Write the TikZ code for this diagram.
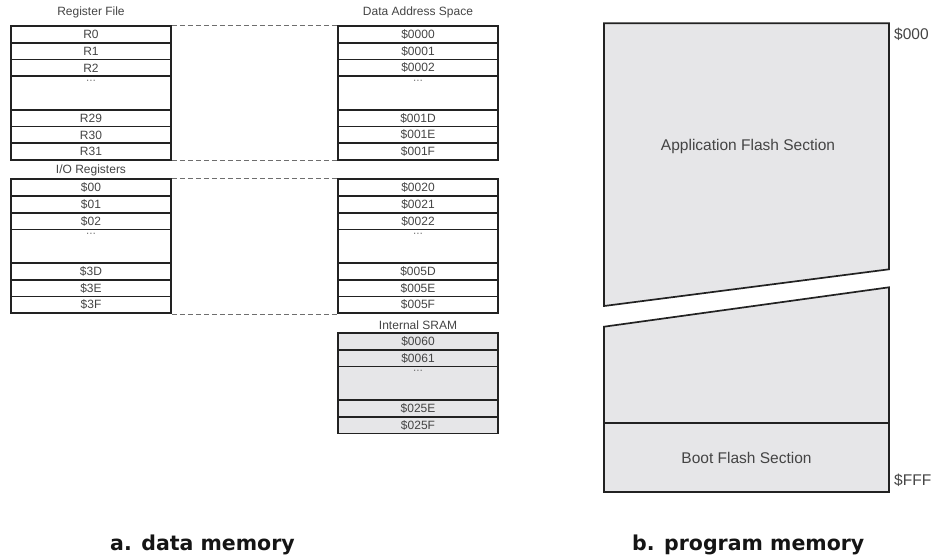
\documentclass[tikz,border=0pt]{standalone}
\usepackage{fontspec}
\setmainfont{Liberation Sans}
\newfontfamily\capfont{DejaVu Sans}
\definecolor{linec}{HTML}{222222}
\definecolor{txtc}{HTML}{444444}
\definecolor{fillc}{HTML}{E6E6E8}
\definecolor{dashc}{HTML}{6E6E6E}
\definecolor{capc}{HTML}{151515}
\tikzset{
  cell/.style={draw=linec, line width=1.7pt, minimum width=160pt, minimum height=16.75pt,
    inner sep=0pt, font=\fontsize{12}{12}\selectfont, text=txtc},
  dotcell/.style={cell, minimum height=33.5pt},
  sram/.style={fill=fillc},
  dotl/.style={anchor=north, inner sep=0pt, yshift=-4.5pt, font=\fontsize{10}{10}\selectfont, text=txtc},
  hdr/.style={font=\fontsize{12}{12}\selectfont, text=txtc, inner sep=0pt},
  guide/.style={draw=dashc, line width=1.2pt, dash pattern=on 5pt off 3pt},
  prog/.style={draw=linec, line width=1.7pt, fill=fillc},
  seclabel/.style={font=\fontsize{15.5}{16}\selectfont, text=txtc, inner sep=0pt},
  addr/.style={font=\fontsize{15.5}{16}\selectfont, text=txtc, inner sep=0pt, anchor=west},
  caption/.style={font=\capfont\bfseries\fontsize{20.5}{21}\selectfont, text=capc, inner sep=0pt, anchor=base west}
}
\begin{document}
\begin{tikzpicture}[x=1pt, y=-1pt]
\useasboundingbox (0,0) rectangle (933,558);

% ---------- Register File ----------
\node[hdr] (hrf) at (91,12) {Register File};
\foreach \n/\o/\t in {0/0/R0,1/1/R1,2/2/R2,4/5/R29,5/6/R30,6/7/R31}
  \node[cell] (rf\n) at (91,{26+(\o+0.5)*16.75}) {\t};
\node[dotcell, label={[dotl]north:···}] (rf3) at (91,{26+4*16.75}) {};

% ---------- Data Address Space (top) ----------
\node[hdr] (hda) at (418,12) {Data Address Space};
\foreach \n/\o/\t in {0/0/\$0000,1/1/\$0001,2/2/\$0002,4/5/\$001D,5/6/\$001E,6/7/\$001F}
  \node[cell] (da\n) at (418,{26+(\o+0.5)*16.75}) {\t};
\node[dotcell, label={[dotl]north:···}] (da3) at (418,{26+4*16.75}) {};

% ---------- I/O Registers ----------
\node[hdr] (hio) at (91,170) {I/O Registers};
\foreach \n/\o/\t in {0/0/\$00,1/1/\$01,2/2/\$02,4/5/\$3D,5/6/\$3E,6/7/\$3F}
  \node[cell] (io\n) at (91,{179.3+(\o+0.5)*16.75}) {\t};
\node[dotcell, label={[dotl]north:···}] (io3) at (91,{179.3+4*16.75}) {};

% ---------- Data Address Space (I/O part) ----------
\foreach \n/\o/\t in {0/0/\$0020,1/1/\$0021,2/2/\$0022,4/5/\$005D,5/6/\$005E,6/7/\$005F}
  \node[cell] (db\n) at (418,{179.3+(\o+0.5)*16.75}) {\t};
\node[dotcell, label={[dotl]north:···}] (db3) at (418,{179.3+4*16.75}) {};

% ---------- Internal SRAM ----------
\node[hdr] (hsr) at (418,325) {Internal SRAM};
\foreach \n/\o/\t in {0/0/\$0060,1/1/\$0061,3/4/\$025E,4/5/\$025F}
  \node[cell, sram] (sr\n) at (418,{333+(\o+0.5)*16.75}) {\t};
\node[dotcell, sram, label={[dotl]north:···}] (sr2) at (418,{333+3*16.75}) {};

% ---------- dashed guides ----------
\draw[guide] (rf0.north east) -- (da0.north west);
\draw[guide] (rf6.south east) -- (da6.south west);
\draw[guide] (io0.north east) -- (db0.north west);
\draw[guide] (io6.south east) -- (db6.south west);

% ---------- Program memory ----------
\coordinate (a1) at (604,23.3);
\coordinate (a2) at (889,23.3);
\coordinate (a3) at (889,269.3);
\coordinate (a4) at (604,306);
\draw[prog] (a1) -- (a2) -- (a3) -- (a4) -- cycle;
\node[seclabel] (app) at (748,146) {Application Flash Section};

\coordinate (b1) at (604,326.7);
\coordinate (b2) at (889,287.3);
\coordinate (b3) at (889,423.3);
\coordinate (b4) at (604,423.3);
\draw[prog] (b1) -- (b2) -- (b3) -- (b4) -- cycle;
\node[prog, minimum width=285pt, minimum height=69pt, inner sep=0pt,
      font=\fontsize{15.5}{16}\selectfont, text=txtc] (boot) at (746.5,457.8) {Boot Flash Section};

\node[addr] (s000) at (894,34) {\$000};
\node[addr] (sfff) at (894,480) {\$FFF};

% ---------- captions ----------
\node[caption] (capa) at (110,550.5) {a. data memory};
\node[caption] (capb) at (632,550.5) {b. program memory};
\end{tikzpicture}
\end{document}
